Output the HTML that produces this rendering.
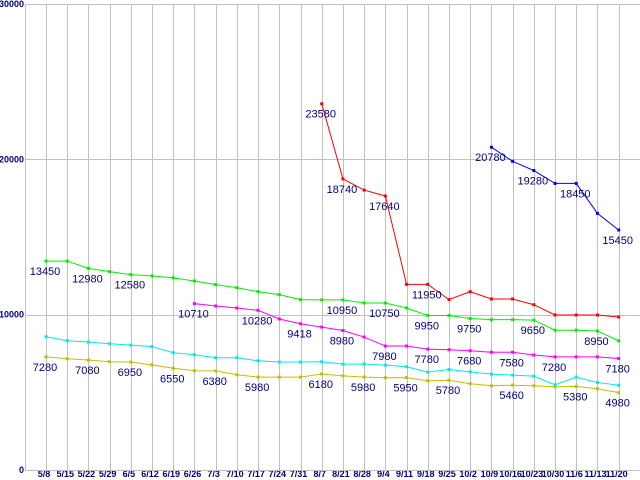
<!DOCTYPE html>
<html><head><meta charset="utf-8"><style>
html,body{margin:0;padding:0;background:#fff;}
svg{display:block;}
</style></head><body>
<svg id="chart" width="640" height="480" xmlns="http://www.w3.org/2000/svg"></svg>
<script>
const categories=["5/8","5/15","5/22","5/29","6/5","6/12","6/19","6/26","7/3","7/10","7/17","7/24","7/31","8/7","8/21","8/28","9/4","9/11","9/18","9/25","10/2","10/9","10/16","10/23","10/30","11/6","11/13","11/20"];
const yTicks=[0,10000,20000,30000];
const greenValues=[13450,13450,12980,12770,12580,12500,12370,12170,11935,11740,11480,11290,10970,10950,10950,10750,10750,10430,9950,9950,9750,9680,9680,9650,9000,9000,8950,8320];
const greenLabels=[0,2,4,14,16,18,20,23,26];
const magentaValues=[null,null,null,null,null,null,null,10710,10560,10430,10280,9720,9418,9200,8980,8560,7980,7980,7780,7740,7680,7580,7580,7400,7280,7280,7280,7180];
const magentaLabels=[7,10,12,14,16,18,20,22,24,27];
const cyanValues=[8580,8320,8240,8130,8040,7940,7550,7420,7230,7230,7030,6950,6950,6970,6820,6820,6750,6650,6300,6470,6320,6170,6110,6040,5480,5980,5630,5460];
const cyanLabels=[];
const yellowValues=[7280,7160,7080,6970,6950,6770,6550,6390,6380,6130,5980,5980,5980,6180,6060,5980,5940,5950,5740,5780,5550,5420,5460,5420,5350,5380,5230,4980];
const yellowLabels=[0,2,4,6,8,10,13,15,17,19,22,25,27];
const redValues=[null,null,null,null,null,null,null,null,null,null,null,null,null,23580,18740,18020,17640,11950,11950,10970,11480,11010,11010,10640,9980,9980,9980,9850];
const redLabels=[13,14,16,18];
const blueValues=[null,null,null,null,null,null,null,null,null,null,null,null,null,null,null,null,null,null,null,null,null,20780,19870,19280,18450,18450,16520,15450];
const blueLabels=[21,23,25,27];

const svg=document.getElementById('chart');
const NS='http://www.w3.org/2000/svg';
const x0=46,dx=21.21,yTop=4,yBot=470,yMax=30000;
function xs(i){return x0+i*dx;}
function ys(v){return yBot-(v/yMax)*(yBot-yTop);}
function mk(tag,attrs){const e=document.createElementNS(NS,tag);for(const k in attrs)e.setAttribute(k,attrs[k]);svg.appendChild(e);return e;}

categories.forEach((c,i)=>{
  const l=mk('line',{x1:Math.round(xs(i))+0.5,x2:Math.round(xs(i))+0.5,y1:yTop,y2:yBot,stroke:'#c0c0c0','stroke-width':1});
  
  
  const t=mk('text',{x:xs(i)-2,y:477,'text-anchor':'middle','font-family':'Liberation Sans, sans-serif','font-size':'9','font-weight':'bold',fill:'#000080'});
  t.textContent=c;
  
  
});
yTicks.forEach(v=>{
  const y=Math.round(ys(v))+0.5;
  if(v>0){
    const l=mk('line',{x1:25,x2:640,y1:y,y2:y,stroke:'#c0c0c0','stroke-width':1});
    
    
  }
  const t=mk('text',{x:24,y:Math.min(ys(v)+3,474),'text-anchor':'end','font-family':'Liberation Sans, sans-serif','font-size':'9','font-weight':'bold',fill:'#000080'});
  t.textContent=String(v);
  
  
});
const ax=mk('line',{x1:25.5,x2:25.5,y1:yTop,y2:yBot,stroke:'#c0c0c0','stroke-width':1});


const bx=mk('line',{x1:25,x2:640,y1:yBot+0.5,y2:yBot+0.5,stroke:'#c0c0c0','stroke-width':1});



function series(vals,labels,color,name){
  let d='';let started=false;
  vals.forEach((v,i)=>{if(v==null)return;d+=(started?'L':'M')+xs(i)+' '+ys(v)+' ';started=true;});
  const p=mk('path',{d:d,fill:'none',stroke:color,'stroke-width':1});
  
  
  vals.forEach((v,i)=>{
    if(v==null)return;
    const r=mk('rect',{x:xs(i)-1.5,y:ys(v)-1.5,width:3,height:3,fill:color});
    
    
  });
  labels.forEach(i=>{
    const v=vals[i];if(v==null)return;
    const t=mk('text',{x:xs(i)-1,y:ys(v)+14,'text-anchor':'middle','font-family':'Liberation Sans, sans-serif','font-size':'11',fill:'#000080'});
    t.textContent=String(v);
    
    
  });
}
series(yellowValues,yellowLabels,'#c0c000','yellow-series');
series(cyanValues,cyanLabels,'#00e8f0','cyan-series');
series(magentaValues,magentaLabels,'#ff00ff','magenta-series');
series(greenValues,greenLabels,'#00f000','green-series');
series(redValues,redLabels,'#ff0000','red-series');
series(blueValues,blueLabels,'#0000ff','blue-series');
</script>
</body></html>
